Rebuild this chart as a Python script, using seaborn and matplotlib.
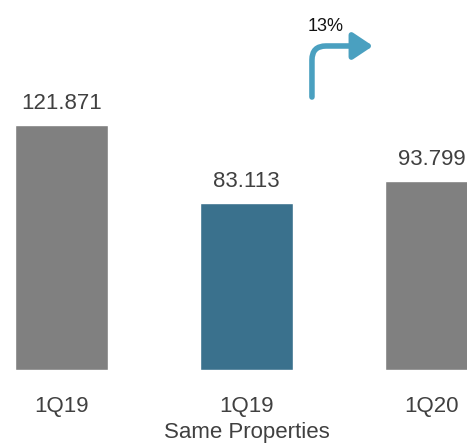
import matplotlib
matplotlib.use("Agg")
import matplotlib.pyplot as plt
from matplotlib.patches import FancyArrowPatch
import seaborn as sns

# Revenue comparison per period
categories = ["1Q19", "1Q19\nSame Properties", "1Q20"]
values = [121.871, 83.113, 93.799]
value_labels = ["121.871", "83.113", "93.799"]
bar_colors = ["#808080", "#3a718d", "#808080"]
growth_label = "13%"

sns.set_theme(style="white")
plt.rcParams["font.family"] = ["Liberation Sans", "DejaVu Sans"]

W, H = 467, 446
fig = plt.figure(figsize=(W / 100, H / 100), dpi=100)
base_px = 370
ax = fig.add_axes([0, (H - base_px) / H, 1, base_px / H])

sns.barplot(x=categories, y=values, hue=categories, palette=bar_colors,
            legend=False, width=0.5, saturation=1, ax=ax)

ax.set_xlim(-0.332, 2.192)
ax.set_ylim(0, base_px / 2.01)
for s in ax.spines.values():
    s.set_visible(False)
ax.set_yticks([])
ax.set_xlabel("")
ax.set_ylabel("")
ax.tick_params(axis="x", length=0, pad=19, labelsize=16, labelcolor="#404040")
ax.set_xticks(range(len(categories)))
ax.set_xticklabels(categories, linespacing=1.3)

# One container per hue level; label the drawn bar in each
for cont, lab in zip(ax.containers, value_labels):
    for b in cont:
        if b is None:
            continue
        ax.annotate(lab, (b.get_x() + b.get_width() / 2, b.get_height()),
                    xytext=(0, 8), textcoords="offset points",
                    ha="center", va="bottom", fontsize=16, color="#404040",
                    annotation_clip=False)

# Growth arrow between the two comparable periods
arrow = FancyArrowPatch(posA=(1.354, 135.8), posB=(1.684, 161.2),
                        connectionstyle="angle,angleA=90,angleB=0,rad=14",
                        arrowstyle="-|>,head_length=1.2,head_width=0.8",
                        mutation_scale=10, lw=4, color="#4aa0c0",
                        shrinkA=0, shrinkB=0, transform=ax.transData,
                        clip_on=False)
ax.add_patch(arrow)
ax.text(1.427, 171, growth_label, ha="center", va="center",
        fontsize=13, color="#111111", clip_on=False)

fig.savefig("out.png", dpi=100)
